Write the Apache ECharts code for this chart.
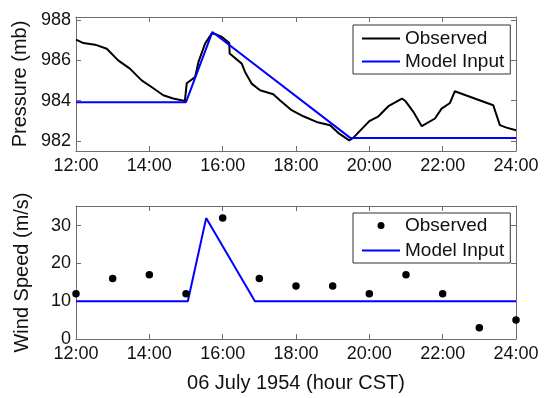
<!DOCTYPE html>
<html>
<head>
<meta charset="utf-8">
<script src="https://cdn.jsdelivr.net/npm/echarts@6/dist/echarts.min.js"></script>
<style>
html,body{margin:0;padding:0;background:#fff;}
#chart{width:548px;height:398px;}
</style>
</head>
<body>
<div id="chart"></div>
<script>
// ---- Data ----
const hourTicks = [12, 14, 16, 18, 20, 22, 24];
const pressureTicks = [982, 984, 986, 988];
const windTicks = [0, 10, 20, 30];

const pressObsHour = [12.0, 12.2, 12.52, 12.84, 13.15, 13.47, 13.79, 14.06, 14.38, 14.65, 14.97, 15.01,
  15.02, 15.25, 15.34, 15.52, 15.7, 15.82, 15.98, 16.18, 16.19, 16.52, 16.61, 16.79, 17.02, 17.38,
  17.56, 17.88, 17.93, 18.2, 18.56, 18.93, 19.15, 19.45, 19.56, 20.0, 20.25, 20.52, 20.89, 20.98,
  21.2, 21.43, 21.79, 21.97, 22.2, 22.33, 23.38, 23.56, 23.74, 24.0];
const pressObsValue = [987.02, 986.85, 986.77, 986.57, 985.99, 985.58, 985.0, 984.67, 984.26, 984.1, 983.98, 983.98,
  984.86, 985.17, 985.91, 986.82, 987.32, 987.28, 987.15, 986.85, 986.33, 985.83, 985.42, 984.84, 984.51, 984.31,
  984.01, 983.52, 983.44, 983.22, 982.94, 982.78, 982.4, 982.03, 982.15, 982.98, 983.22, 983.72, 984.1, 983.98,
  983.44, 982.73, 983.11, 983.6, 983.88, 984.46, 983.77, 982.78, 982.66, 982.53];

const pressModelHour = [12, 15, 15.72, 19.48, 24];
const pressModelValue = [983.92, 983.92, 987.4, 982.15, 982.15];

const windObsHour = [12, 13, 14, 15, 16, 17, 18, 19, 20, 21, 22, 23, 24];
const windObsValue = [12, 16, 17, 12, 32, 16, 14, 14, 12, 17, 12, 3, 5];

const windModelHour = [12, 15.05, 15.55, 16.88, 24];
const windModelValue = [10, 10, 32, 10, 10];

const legendLabels = { pObs: 'Observed', pModel: 'Model Input', wObs: 'Observed', wModel: 'Model Input' };

function pairs(xs, ys) { return xs.map((x, i) => [x, ys[i]]); }

const FONT = 'Liberation Sans, Arial, sans-serif';
const AXIS_COLOR = '#6e6e6e';
const LINE_ICON = 'path://M0,0 L38,0 L38,2 L0,2 Z';

function xAxisPair(gridIndex, showName) {
  return [
    {
      type: 'value', gridIndex, min: 12, max: 24, interval: 2, position: 'bottom',
      axisLine: { show: true, onZero: false, lineStyle: { color: AXIS_COLOR, width: 1 } },
      axisTick: { show: true, inside: true, length: 5, lineStyle: { color: AXIS_COLOR } },
      axisLabel: { show: true, color: '#111', fontSize: 18, fontFamily: FONT, margin: 6,
        formatter: v => v + ':00', showMinLabel: true, showMaxLabel: true },
      splitLine: { show: false },
      name: showName ? '06 July 1954 (hour CST)' : '',
      nameLocation: 'middle', nameGap: 34,
      nameTextStyle: { fontSize: 20, color: '#111', fontFamily: FONT }
    },
    {
      type: 'value', gridIndex, min: 12, max: 24, interval: 2, position: 'top',
      axisLine: { show: true, onZero: false, lineStyle: { color: AXIS_COLOR, width: 1 } },
      axisTick: { show: true, inside: true, length: 5, lineStyle: { color: AXIS_COLOR } },
      axisLabel: { show: false },
      splitLine: { show: false }
    }
  ];
}

function yAxisPair(gridIndex, min, max, ticks, name, nameGap) {
  return [
    {
      type: 'value', gridIndex, min, max, position: 'left',
      axisLine: { show: true, onZero: false, lineStyle: { color: AXIS_COLOR, width: 1 } },
      axisTick: { show: true, inside: true, length: 5, customValues: ticks, lineStyle: { color: AXIS_COLOR } },
      axisLabel: { show: true, customValues: ticks, color: '#111', fontSize: 18, fontFamily: FONT, margin: 5 },
      splitLine: { show: false },
      name, nameLocation: 'middle', nameGap,
      nameTextStyle: { fontSize: 20, color: '#111', fontFamily: FONT }
    },
    {
      type: 'value', gridIndex, min, max, position: 'right',
      axisLine: { show: true, onZero: false, lineStyle: { color: AXIS_COLOR, width: 1 } },
      axisTick: { show: true, inside: true, length: 5, customValues: ticks, lineStyle: { color: AXIS_COLOR } },
      axisLabel: { show: false, customValues: ticks },
      splitLine: { show: false }
    }
  ];
}

const chart = echarts.init(document.getElementById('chart'), null, { renderer: 'canvas' });

const legendCommon = {
  orient: 'vertical', align: 'left',
  backgroundColor: '#fff', borderColor: '#333', borderWidth: 1, borderRadius: 0,
  itemWidth: 38, itemHeight: 7,
  textStyle: { fontSize: 19, color: '#111', fontFamily: FONT, padding: [0, 0, 0, 0] },
  formatter: n => legendLabels[n],
  selectedMode: false
};

chart.setOption({
  animation: false,
  backgroundColor: '#fff',
  grid: [
    { left: 76, top: 17, width: 440, height: 134 },
    { left: 76, top: 206, width: 440, height: 133 }
  ],
  xAxis: [...xAxisPair(0, false), ...xAxisPair(1, true)],
  yAxis: [
    ...yAxisPair(0, 981.5, 988.14, pressureTicks, 'Pressure (mb)', 46),
    ...yAxisPair(1, 0, 35.2, windTicks, 'Wind Speed (m/s)', 44)
  ],
  legend: [
    Object.assign({}, legendCommon, { left: 353, top: 25, padding: [4, 6, 3, 9], itemGap: 4,
      data: [{ name: 'pObs', icon: LINE_ICON }, { name: 'pModel', icon: LINE_ICON }] }),
    Object.assign({}, legendCommon, { left: 353, top: 213, padding: [3, 6, 3, 9], itemGap: 6,
      data: [{ name: 'wObs', icon: 'circle' }, { name: 'wModel', icon: LINE_ICON }] })
  ],
  series: [
    {
      name: 'pObs', type: 'line', xAxisIndex: 0, yAxisIndex: 0,
      data: pairs(pressObsHour, pressObsValue), symbol: 'none',
      lineStyle: { color: '#000', width: 2 }, itemStyle: { color: '#000' }, z: 3
    },
    {
      name: 'pModel', type: 'line', xAxisIndex: 0, yAxisIndex: 0,
      data: pairs(pressModelHour, pressModelValue), symbol: 'none',
      lineStyle: { color: '#0000ff', width: 2 }, itemStyle: { color: '#0000ff' }, z: 4
    },
    {
      name: 'wObs', type: 'scatter', xAxisIndex: 2, yAxisIndex: 2,
      data: pairs(windObsHour, windObsValue), symbol: 'circle', symbolSize: 7.5,
      itemStyle: { color: '#000', opacity: 1 }, z: 4
    },
    {
      name: 'wModel', type: 'line', xAxisIndex: 2, yAxisIndex: 2,
      data: pairs(windModelHour, windModelValue), symbol: 'none',
      lineStyle: { color: '#0000ff', width: 2 }, itemStyle: { color: '#0000ff' }, z: 3
    }
  ]
});
</script>
</body>
</html>
